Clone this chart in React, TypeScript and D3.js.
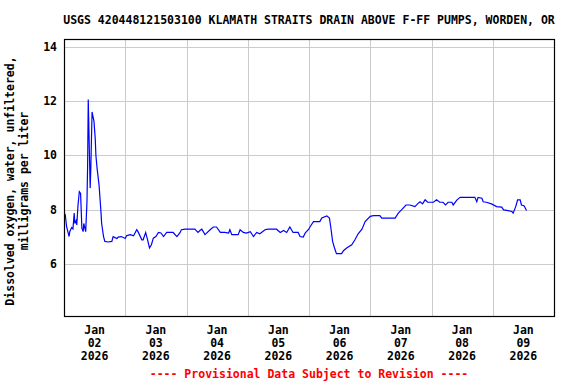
import React, { useEffect, useRef } from "react";
import * as d3 from "d3";

// Dissolved oxygen readings (hours after 2026-01-02 00:00, mg/L)
const hoursSinceStart = [
  0.25, 0.5, 1.0, 2.0, 2.25, 3.0, 3.5, 4.0, 4.25, 4.75, 5.0, 5.5, 6.0, 6.5, 7.0,
  7.5, 7.75, 8.25, 8.5, 9.0, 9.25, 9.5, 9.75, 10.25, 10.5, 11.0, 11.25, 11.75,
  12.25, 12.5, 13.0, 13.75, 14.5, 14.75, 15.5, 16.0, 17.25, 18.75, 19.25, 20.0,
  20.75, 21.25, 22.5, 24.0, 24.5, 25.25, 26.0, 27.25, 28.5, 29.0, 30.5, 31.0,
  32.0, 32.75, 33.5, 34.25, 35.0, 36.0, 37.0, 38.0, 39.0, 40.25, 42.75, 44.25,
  45.5, 46.0, 47.5, 51.25, 52.5, 53.25, 54.0, 55.25, 57.25, 58.5, 59.75, 61.25,
  63.0, 64.5, 65.0, 65.75, 68.25, 69.0, 70.25, 71.5, 73.0, 74.25, 75.5, 76.75,
  78.75, 80.0, 83.25, 84.75, 86.0, 87.25, 88.5, 89.75, 91.75, 92.5, 93.75, 94.5,
  95.0, 95.75, 96.5, 97.75, 100.25, 101.0, 103.0, 104.0, 104.5, 105.25, 106.0,
  106.75, 108.75, 109.5, 110.75, 112.75, 114.0, 115.25, 116.75, 118.0, 120.0,
  121.25, 123.75, 124.5, 129.75, 131.0, 132.25, 134.0, 135.5, 137.5, 138.75,
  139.5, 140.5, 141.5, 142.5, 144.75, 146.0, 147.25, 148.5, 149.5, 150.5, 152.0,
  152.5, 154.0, 155.25, 161.0, 161.75, 162.25, 163.75, 164.25, 165.5, 167.5,
  169.5, 171.5, 172.25, 173.5, 175.5, 176.0, 177.0, 177.75, 178.75, 179.25,
  180.25, 181.25,
];

const oxygenValues = [
  7.85, 7.82, 7.39, 7.02, 7.2, 7.35, 7.3, 7.88, 7.5, 7.6, 7.45, 8.18, 8.67, 8.6,
  7.33, 7.2, 7.5, 7.3, 7.2, 8.3, 9.6, 12.06, 11.0, 8.8, 9.5, 11.6, 11.48, 11.25,
  10.6, 10.0, 9.5, 8.9, 7.9, 7.5, 7.02, 6.84, 6.82, 6.84, 7.02, 6.98, 6.95, 7.0,
  7.02, 6.95, 7.05, 7.07, 7.09, 7.05, 7.27, 7.2, 6.9, 6.9, 7.17, 6.9, 6.6, 6.72,
  6.96, 7.02, 7.17, 7.15, 7.02, 7.17, 7.17, 7.02, 7.17, 7.27, 7.29, 7.29, 7.17,
  7.24, 7.29, 7.09, 7.27, 7.37, 7.37, 7.17, 7.17, 7.15, 7.27, 7.09, 7.09, 7.27,
  7.17, 7.15, 7.2, 7.02, 7.17, 7.12, 7.27, 7.29, 7.29, 7.17, 7.24, 7.17, 7.37,
  7.17, 7.17, 7.02, 7.0, 7.15, 7.2, 7.27, 7.39, 7.57, 7.57, 7.7, 7.78, 7.7,
  7.39, 6.84, 6.6, 6.39, 6.39, 6.5, 6.6, 6.72, 6.9, 7.12, 7.29, 7.57, 7.76,
  7.79, 7.79, 7.7, 7.7, 7.88, 8.0, 8.18, 8.18, 8.12, 8.24, 8.3, 8.22, 8.37,
  8.28, 8.28, 8.37, 8.28, 8.28, 8.18, 8.28, 8.28, 8.18, 8.37, 8.46, 8.46, 8.3,
  8.46, 8.43, 8.3, 8.28, 8.22, 8.12, 8.1, 8.0, 7.98, 7.94, 7.88, 8.12, 8.37,
  8.37, 8.18, 8.15, 7.98,
];

const yTicks = [6, 8, 10, 12, 14];
const dayLabels = ["02", "03", "04", "05", "06", "07", "08", "09"];
const monthLabel = "Jan";
const yearLabel = "2026";

const title =
  "USGS 420448121503100 KLAMATH STRAITS DRAIN ABOVE F-FF PUMPS, WORDEN, OR";
const yLabelLines = ["Dissolved oxygen, water, unfiltered,", "milligrams per liter"];
const footer = "---- Provisional Data Subject to Revision ----";

const App: React.FC = () => {
  const svgRef = useRef<SVGSVGElement | null>(null);

  useEffect(() => {
    const width = 576;
    const height = 384;
    const plot = { left: 64, right: 554, top: 39, bottom: 316 };
    const font = "'DejaVu Sans Mono', monospace";
    const fontSize = "11.5px";

    const start = new Date(2026, 0, 2);
    const end = new Date(2026, 0, 10);
    const toDate = (h: number) => new Date(start.getTime() + h * 3600 * 1000);

    const xScale = d3
      .scaleTime()
      .domain([start, end])
      .range([plot.left, plot.right]);

    const yScale = d3
      .scaleLinear()
      .domain([4.1, 14.28])
      .range([plot.bottom, plot.top]);

    const svg = d3
      .select(svgRef.current)
      .attr("width", width)
      .attr("height", height);

    svg.selectAll("*").remove();

    svg
      .append("rect")
      .attr("width", width)
      .attr("height", height)
      .attr("fill", "white");

    // Horizontal grid
    svg
      .append("g")
      .selectAll("line")
      .data(yTicks)
      .enter()
      .append("line")
      .attr("x1", plot.left)
      .attr("x2", plot.right)
      .attr("y1", (d) => Math.round(yScale(d)) + 0.5)
      .attr("y2", (d) => Math.round(yScale(d)) + 0.5)
      .attr("stroke", "#cccccc")
      .attr("stroke-width", 1);

    // Vertical grid at midnight
    const midnights = d3.timeDay.range(d3.timeDay.offset(start, 1), end);
    svg
      .append("g")
      .selectAll("line")
      .data(midnights)
      .enter()
      .append("line")
      .attr("x1", (d) => Math.round(xScale(d)) + 0.5)
      .attr("x2", (d) => Math.round(xScale(d)) + 0.5)
      .attr("y1", plot.top)
      .attr("y2", plot.bottom)
      .attr("stroke", "#cccccc")
      .attr("stroke-width", 1);

    // Data line
    const points = hoursSinceStart.map((h, i) => ({
      t: toDate(h),
      v: oxygenValues[i],
    }));
    const line = d3
      .line<{ t: Date; v: number }>()
      .x((d) => xScale(d.t))
      .y((d) => yScale(d.v));
    svg
      .append("path")
      .datum(points)
      .attr("d", line)
      .attr("fill", "none")
      .attr("stroke", "#0000ff")
      .attr("stroke-width", 1.2);

    // Frame
    svg
      .append("rect")
      .attr("x", plot.left + 0.5)
      .attr("y", plot.top + 0.5)
      .attr("width", plot.right - plot.left)
      .attr("height", plot.bottom - plot.top)
      .attr("fill", "none")
      .attr("stroke", "black")
      .attr("stroke-width", 1.2);

    // Y tick labels
    svg
      .append("g")
      .selectAll("text")
      .data(yTicks)
      .enter()
      .append("text")
      .attr("x", 57)
      .attr("y", (d) => yScale(d) + 4)
      .attr("text-anchor", "end")
      .style("font-family", font)
      .style("font-size", fontSize)
      .style("font-weight", "bold")
      .style("fill", "black")
      .text((d) => String(d));

    // X tick labels at noon
    const noons = dayLabels.map((_, i) => d3.timeHour.offset(start, 12 + i * 24));
    const xLabels = svg
      .append("g")
      .selectAll("text")
      .data(noons)
      .enter()
      .append("text")
      .attr("text-anchor", "middle")
      .style("font-family", font)
      .style("font-size", fontSize)
      .style("font-weight", "bold")
      .style("fill", "black");
    xLabels
      .append("tspan")
      .attr("x", (d) => xScale(d))
      .attr("y", 334)
      .text(monthLabel);
    xLabels
      .append("tspan")
      .attr("x", (d) => xScale(d))
      .attr("y", 347)
      .text((_, i) => dayLabels[i]);
    xLabels
      .append("tspan")
      .attr("x", (d) => xScale(d))
      .attr("y", 360)
      .text(yearLabel);

    // Title
    svg
      .append("text")
      .attr("x", 309)
      .attr("y", 24)
      .attr("text-anchor", "middle")
      .style("font-family", font)
      .style("font-size", fontSize)
      .style("font-weight", "bold")
      .style("fill", "black")
      .text(title);

    // Y axis label
    yLabelLines.forEach((txt, i) => {
      svg
        .append("text")
        .attr("transform", `translate(${14 + i * 14},181) rotate(-90)`)
        .attr("text-anchor", "middle")
        .style("font-family", font)
        .style("font-size", fontSize)
        .style("font-weight", "bold")
        .style("fill", "black")
        .text(txt);
    });

    // Footer
    svg
      .append("text")
      .attr("x", 309)
      .attr("y", 378)
      .attr("text-anchor", "middle")
      .style("font-family", font)
      .style("font-size", fontSize)
      .style("font-weight", "bold")
      .style("fill", "#ff0000")
      .text(footer);
  }, []);

  return (
    <svg
      ref={svgRef}
      style={{ position: "absolute", left: 0, top: 0, display: "block" }}
    ></svg>
  );
};

export default App;
